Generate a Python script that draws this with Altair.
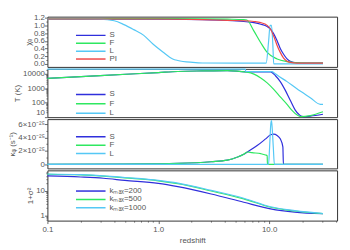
import altair as alt
import pandas as pd

# ---------------- Panel 1: ionised fraction chi_e ----------------
chi_S_z = [0.1, 1.0, 2.5, 4.2, 5.9, 7.3, 8.4, 9.6, 10.3, 11.0, 11.8, 12.6, 13.5, 14.5, 15.5, 17.8, 21.0, 30.6]
chi_S = [1.16, 1.16, 1.15, 1.13, 1.10, 1.07, 1.03, 0.97, 0.90, 0.78, 0.60, 0.40, 0.25, 0.13, 0.07, 0.03, 0.02, 0.02]
chi_PI_z = [0.1, 1.0, 2.5, 4.2, 5.9, 7.3, 8.4, 9.6, 10.3, 11.0, 11.8, 12.6, 13.5, 14.5, 15.5, 17.8, 21.0, 30.6]
chi_PI = [1.165, 1.165, 1.15, 1.13, 1.12, 1.10, 1.07, 1.00, 0.90, 0.72, 0.48, 0.30, 0.15, 0.07, 0.04, 0.02, 0.02, 0.02]
chi_F_z = [0.1, 1.0, 2.5, 4.2, 5.9, 6.3, 7.3, 8.4, 9.6, 11.8, 14.5, 17.8, 30.6]
chi_F = [1.17, 1.175, 1.17, 1.16, 1.15, 1.14, 0.85, 0.55, 0.30, 0.13, 0.06, 0.03, 0.02]
chi_L_z = [0.1, 0.2, 0.3, 0.4, 0.49, 0.6, 0.74, 0.9, 1.1, 1.35, 1.5, 2.05, 2.5, 5.0, 9.4, 9.9, 10.2, 10.5, 10.8, 11.0, 30.6]
chi_L = [1.165, 1.165, 1.16, 1.12, 1.02, 0.89, 0.74, 0.51, 0.31, 0.13, 0.09, 0.04, 0.025, 0.02, 0.02, 0.6, 1.0, 1.0, 0.5, 0.0, 0.0]

# ---------------- Panel 2: temperature T (K) ----------------
T_S_z = [0.1, 0.3, 1.0, 1.5, 2.5, 4.2, 6.1, 10.3, 11.4, 12.6, 14.0, 15.5, 17.2, 18.4, 19.7, 21.0, 23.5, 30.6]
T_S = [4800, 7500, 12200, 14400, 15800, 16800, 13700, 13500, 7300, 2850, 700, 145, 30, 16, 11, 10.5, 11.5, 15.5]
T_F_z = [0.1, 0.3, 1.0, 1.5, 2.5, 4.2, 6.3, 7.3, 8.4, 9.6, 11.0, 12.6, 14.5, 16.0, 17.8, 19.3, 23.5, 30.6]
T_F = [4800, 7500, 12200, 14400, 15800, 16800, 13000, 9500, 5100, 2330, 820, 245, 75, 30, 14, 10.5, 12.5, 23]
T_L_z = [0.1, 6.1, 6.15, 10.6, 11.2, 11.8, 14.5, 17.8, 23.5, 29.0, 30.6]
T_L = [20900, 20900, 14400, 14000, 11000, 8100, 2850, 910, 220, 75, 75]

# ---------------- Panel 3: kappa_phi (s^-1) ----------------
K_S_z = [0.1, 0.5, 1.0, 1.5, 3.0, 4.2, 5.2, 5.9, 6.37, 7.8, 9.3, 10.3, 11.0, 11.8, 12.6, 13.3, 13.45, 30.6]
K_S = [0.0, 0.03e-25, 0.08e-25, 0.15e-25, 0.4e-25, 0.63e-25, 1.1e-25, 1.5e-25, 1.85e-25, 2.8e-25,
       3.8e-25, 4.4e-25, 4.5e-25, 4.3e-25, 3.8e-25, 2.6e-25, 0.0, 0.0]
K_F_z = [0.1, 0.5, 1.0, 1.5, 3.0, 4.2, 5.2, 5.9, 6.37, 7.0, 8.4, 9.3, 9.6, 9.65, 30.6]
K_F = [0.0, 0.03e-25, 0.08e-25, 0.15e-25, 0.4e-25, 0.63e-25, 1.1e-25, 1.5e-25, 1.85e-25, 1.75e-25,
       1.6e-25, 1.4e-25, 1.3e-25, 0.0, 0.0]
K_L_z = [0.1, 9.87, 10.1, 10.35, 10.5, 10.6, 10.9, 11.15, 30.6]
K_L = [0.0, 0.0, 2.6e-25, 6.0e-25, 6.5e-25, 5.9e-25, 2.6e-25, 0.0, 0.0]

# ---------------- Panel 4: 1 + sigma^2 ----------------
sig_z = [0.1, 0.2, 0.32, 0.5, 1.0, 1.5, 3.0, 5.9, 10.3, 17.0, 30.6]
sig_200 = [41, 37, 33, 27, 20.4, 15, 7.6, 3.5, 1.9, 1.4, 1.2]
sig_500 = [48, 45, 40, 34, 26, 20, 10, 4.8, 2.2, 1.55, 1.2]
sig_1000 = [49, 46, 41.5, 35.5, 27, 21, 10.7, 5.1, 2.3, 1.6, 1.22]

# ticks
x_ticks = [0.1, 0.2, 0.3, 0.4, 0.5, 0.6, 0.7, 0.8, 0.9, 1, 2, 3, 4, 5, 6, 7, 8, 9, 10, 20, 30, 40]
chi_ticks = [0.0, 0.1, 0.2, 0.3, 0.4, 0.5, 0.6, 0.7, 0.8, 0.9, 1.0, 1.1, 1.2]
T_ticks = [10, 20, 30, 40, 50, 60, 70, 80, 90, 100, 200, 300, 400, 500, 600, 700, 800, 900,
           1000, 2000, 3000, 4000, 5000, 6000, 7000, 8000, 9000, 10000, 20000]
K_ticks = [0.0, 1e-25, 2e-25, 3e-25, 4e-25, 5e-25, 6e-25]
sig_ticks = [0.7, 0.8, 0.9, 1, 2, 3, 4, 5, 6, 7, 8, 9, 10, 20, 30, 40, 50, 60]

BLUE, GREEN, LBLUE, RED = "#2f2fdc", "#2ee860", "#55c8f5", "#f04848"
FONT = "Liberation Sans"
GRAY = "#555555"


def frame(series):
    rows = []
    for name, zs, vs in series:
        for z, v in zip(zs, vs):
            rows.append({"z": z, "v": v, "s": name})
    return pd.DataFrame(rows)


xscale = alt.Scale(type="log", domain=[0.1, 41], nice=False)


def legend(x, y, rowpad):
    return alt.Legend(orient="none", legendX=x, legendY=y, title=None, symbolType="stroke",
                      symbolSize=900, symbolStrokeWidth=1.5, clipHeight=8, rowPadding=rowpad,
                      labelFontSize=8, labelFont=FONT, labelColor=GRAY, labelOffset=3, padding=0)


def panel(df, ylab, yscale, yaxis, names, colors, leg, h, xaxis=None):
    return alt.Chart(df).mark_line(strokeWidth=1.2, interpolate="monotone").encode(
        x=alt.X("z:Q", scale=xscale, axis=xaxis, title="redshift" if xaxis is not None else None),
        y=alt.Y("v:Q", scale=yscale, axis=yaxis, title=ylab),
        color=alt.Color("s:N", scale=alt.Scale(domain=names, range=colors), legend=leg),
    ).properties(width=294, height=h)


def yax(values, label_expr, major_test, flush=False):
    return alt.Axis(values=values, labelExpr=label_expr, grid=False, domain=False,
                    labelOverlap=False, labelPadding=0, titlePadding=1, labelFlush=flush,
                    tickSize={"condition": {"test": major_test, "value": 3}, "value": 1.5})


df1 = frame([("S", chi_S_z, chi_S), ("F", chi_F_z, chi_F), ("L", chi_L_z, chi_L), ("PI", chi_PI_z, chi_PI)])
p1 = panel(df1, "χₑ", alt.Scale(domain=[-0.077, 1.226], nice=False, zero=False),
           yax(chi_ticks, "round(datum.value*10)%2==0 ? format(datum.value,'.1f') : ''",
               "round(datum.value*10)%2==0"),
           ["S", "F", "L", "PI"], [BLUE, GREEN, LBLUE, RED], legend(28, 15, 0), 51)

df2 = frame([("S", T_S_z, T_S), ("F", T_F_z, T_F), ("L", T_L_z, T_L)])
maj_T = "indexof([10,100,1000,10000], datum.value) >= 0"
p2 = panel(df2, "T (K)", alt.Scale(type="log", domain=[9.7, 21900], nice=False),
           yax(T_ticks, maj_T + " ? format(datum.value,'d') : ''", maj_T, 2),
           ["S", "F", "L"], [BLUE, GREEN, LBLUE], legend(28, 22, 1.5), 49)

df3 = frame([("S", K_S_z, K_S), ("F", K_F_z, K_F), ("L", K_L_z, K_L)])
maj_K = "round(datum.value*1e25)%2==0"
p3 = panel(df3, "κᵩ (s⁻¹)", alt.Scale(domain=[-0.59e-25, 6.73e-25], nice=False, zero=False),
           yax(K_ticks, "datum.value==0 ? '0' : (round(datum.value*1e25)%2==0 ? format(round(datum.value*1e25),'d') + '×10⁻²⁵' : '')",
               maj_K),
           ["S", "F", "L"], [BLUE, GREEN, LBLUE], legend(28, 14, 0.5), 50)

df4 = frame([("kₘₐₓ=200", sig_z, sig_200), ("kₘₐₓ=500", sig_z, sig_500), ("kₘₐₓ=1000", sig_z, sig_1000)])
maj_s = "indexof([1,10], datum.value) >= 0"
xaxis = alt.Axis(values=x_ticks, grid=False, domain=False, labelOverlap=False, labelFlush=False,
                 labelExpr="datum.value==0.1 ? '0.1' : (datum.value==1 ? '1.0' : (datum.value==10 ? '10.0' : ''))",
                 tickSize={"condition": {"test": "indexof([0.1,1,10], datum.value) >= 0", "value": 3}, "value": 1.5},
                 labelPadding=2, titlePadding=3)
p4 = panel(df4, "1+σ²", alt.Scale(type="log", domain=[0.63, 69], nice=False),
           yax(sig_ticks, maj_s + " ? format(datum.value,'d') : ''", maj_s),
           ["kₘₐₓ=200", "kₘₐₓ=500", "kₘₐₓ=1000"], [BLUE, GREEN, LBLUE], legend(28, 17, 0.5), 51, xaxis)

chart = alt.vconcat(p1, p2, p3, p4, spacing=2, bounds="flush").resolve_scale(
    color="independent"
).properties(
    padding={"left": 0, "top": 3, "right": 4, "bottom": 0}
).configure_view(stroke="#333333", strokeWidth=1).configure_axis(
    labelFont=FONT, labelFontSize=8, labelColor=GRAY, titleFont=FONT, titleFontSize=8,
    titleFontWeight="normal", titleColor=GRAY, tickColor="#444444", tickWidth=0.8
)

chart.save("out.html", embed_options={"renderer": "svg", "actions": False})
